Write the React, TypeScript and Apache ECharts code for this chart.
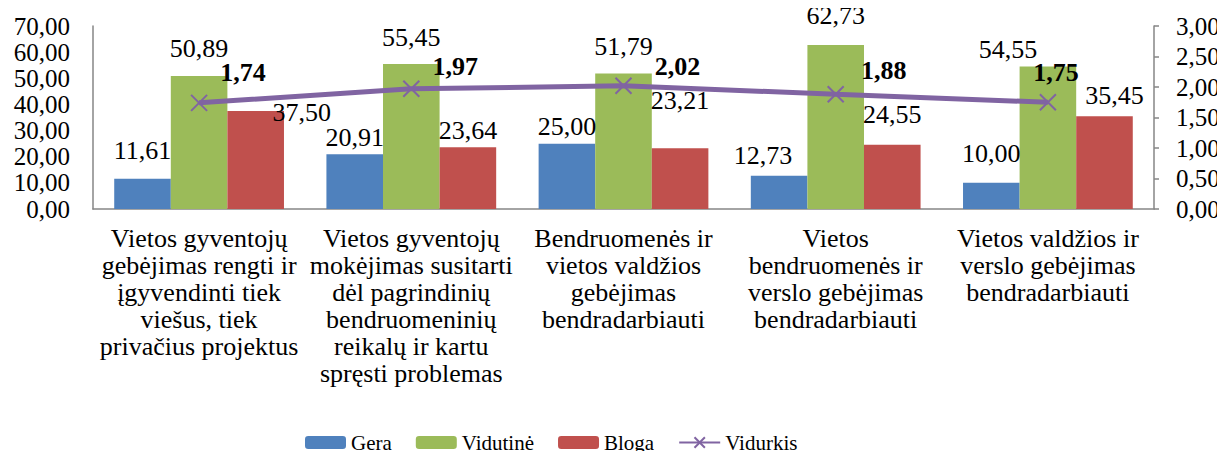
import React, { useEffect, useRef } from "react";
import * as echarts from "echarts";

const categories = [
  "Vietos gyventojų\ngebėjimas rengti ir\nįgyvendinti tiek\nviešus, tiek\nprivačius projektus",
  "Vietos gyventojų\nmokėjimas susitarti\ndėl pagrindinių\nbendruomeninių\nreikalų ir kartu\nspręsti problemas",
  "Bendruomenės ir\nvietos valdžios\ngebėjimas\nbendradarbiauti",
  "Vietos\nbendruomenės ir\nverslo gebėjimas\nbendradarbiauti",
  "Vietos valdžios ir\nverslo gebėjimas\nbendradarbiauti",
];
const gera = [11.61, 20.91, 25.0, 12.73, 10.0];
const vidutine = [50.89, 55.45, 51.79, 62.73, 54.55];
const bloga = [37.5, 23.64, 23.21, 24.55, 35.45];
const vidurkis = [1.74, 1.97, 2.02, 1.88, 1.75];
const seriesNames = ["Gera", "Vidutinė", "Bloga", "Vidurkis"];

// label placement tweaks (layout only)
const geraOffsets = [[0, -11], [0, 0], [0, 0], [-16, -3], [0, -12]];
const vidutineOffsets = [[0, -10], [0, -10], [0, -10], [0, -13], [-40, 0]];
const blogaOffsets = [[46, 19], [0, 0], [0, -31], [0, -13], [10, -4]];
const vidurkisOffsets = [[44, -3], [44, 5], [54, 8], [48, 3], [8, -3]];

const FONT = "'Liberation Serif', 'Times New Roman', serif";
const fmt = (v: number) => v.toFixed(2).replace(".", ",");

export default function App() {
  const ref = useRef<HTMLDivElement>(null);
  useEffect(() => {
    if (!ref.current) return;
    const chart = echarts.init(ref.current, null, { renderer: "svg" });
    const barLabel = {
      show: true,
      position: "top",
      distance: 4,
      color: "#000",
      fontFamily: FONT,
      fontSize: 26,
      formatter: (p: any) => fmt(p.value),
    };
    const mkBar = (vals: number[], offs: number[][]) =>
      vals.map((v, i) => ({ value: v, label: { offset: offs[i] } }));
    const axisLbl = {
      color: "#000",
      fontFamily: FONT,
      fontSize: 25,
      lineHeight: 24,
      formatter: (v: number) => fmt(v),
    };
    chart.setOption({
      animation: false,
      backgroundColor: "#fff",
      textStyle: { fontFamily: FONT, color: "#000" },
      grid: { left: 93, right: 71, top: 26, bottom: 250 },
      legend: {
        top: 427,
        left: 300,
        itemWidth: 41,
        itemHeight: 13,
        itemGap: 24,
        textStyle: { fontFamily: FONT, fontSize: 21, color: "#000" },
        data: seriesNames,
      },
      xAxis: {
        type: "category",
        data: categories,
        axisLine: { lineStyle: { color: "#868686", width: 1.5 } },
        axisTick: { show: false },
        axisLabel: {
          interval: 0,
          margin: 16,
          color: "#000",
          fontFamily: FONT,
          fontSize: 26,
          lineHeight: 27,
        },
      },
      yAxis: [
        {
          type: "value",
          min: 0,
          max: 70,
          interval: 10,
          splitLine: { show: false },
          axisLine: { show: true, lineStyle: { color: "#868686", width: 1.5 } },
          axisTick: { show: false },
          axisLabel: { ...axisLbl, margin: 23 },
        },
        {
          type: "value",
          min: 0,
          max: 3,
          interval: 0.5,
          position: "right",
          splitLine: { show: false },
          axisLine: { show: true, lineStyle: { color: "#868686", width: 1.5 } },
          axisTick: { show: true, length: 5, lineStyle: { color: "#868686", width: 1.5 } },
          axisLabel: { ...axisLbl, margin: 22 },
        },
      ],
      series: [
        {
          name: seriesNames[0],
          type: "bar",
          barGap: "0%",
          barCategoryGap: "20%",
          itemStyle: { color: "#4F81BD" },
          label: barLabel,
          data: mkBar(gera, geraOffsets),
        },
        {
          name: seriesNames[1],
          type: "bar",
          barGap: "0%",
          barCategoryGap: "20%",
          itemStyle: { color: "#9BBB59" },
          label: barLabel,
          data: mkBar(vidutine, vidutineOffsets),
        },
        {
          name: seriesNames[2],
          type: "bar",
          barGap: "0%",
          barCategoryGap: "20%",
          itemStyle: { color: "#C0504D" },
          label: barLabel,
          data: mkBar(bloga, blogaOffsets),
        },
        {
          name: seriesNames[3],
          type: "line",
          yAxisIndex: 1,
          symbol: "path://M0,0L10,10M10,0L0,10",
          symbolSize: 16,
          lineStyle: { color: "#8064A2", width: 5 },
          itemStyle: { color: "#8064A2", borderColor: "#8064A2", borderWidth: 2 },
          label: {
            show: true,
            position: "top",
            distance: 5,
            color: "#000",
            fontFamily: FONT,
            fontSize: 26,
            fontWeight: "bold",
            formatter: (p: any) => fmt(p.value),
          },
          data: vidurkis.map((v, i) => ({ value: v, label: { offset: vidurkisOffsets[i] } })),
          z: 5,
        },
      ],
    });
    return () => chart.dispose();
  }, []);
  return <div ref={ref} style={{ width: 1225, height: 459, margin: -8 }} />;
}
